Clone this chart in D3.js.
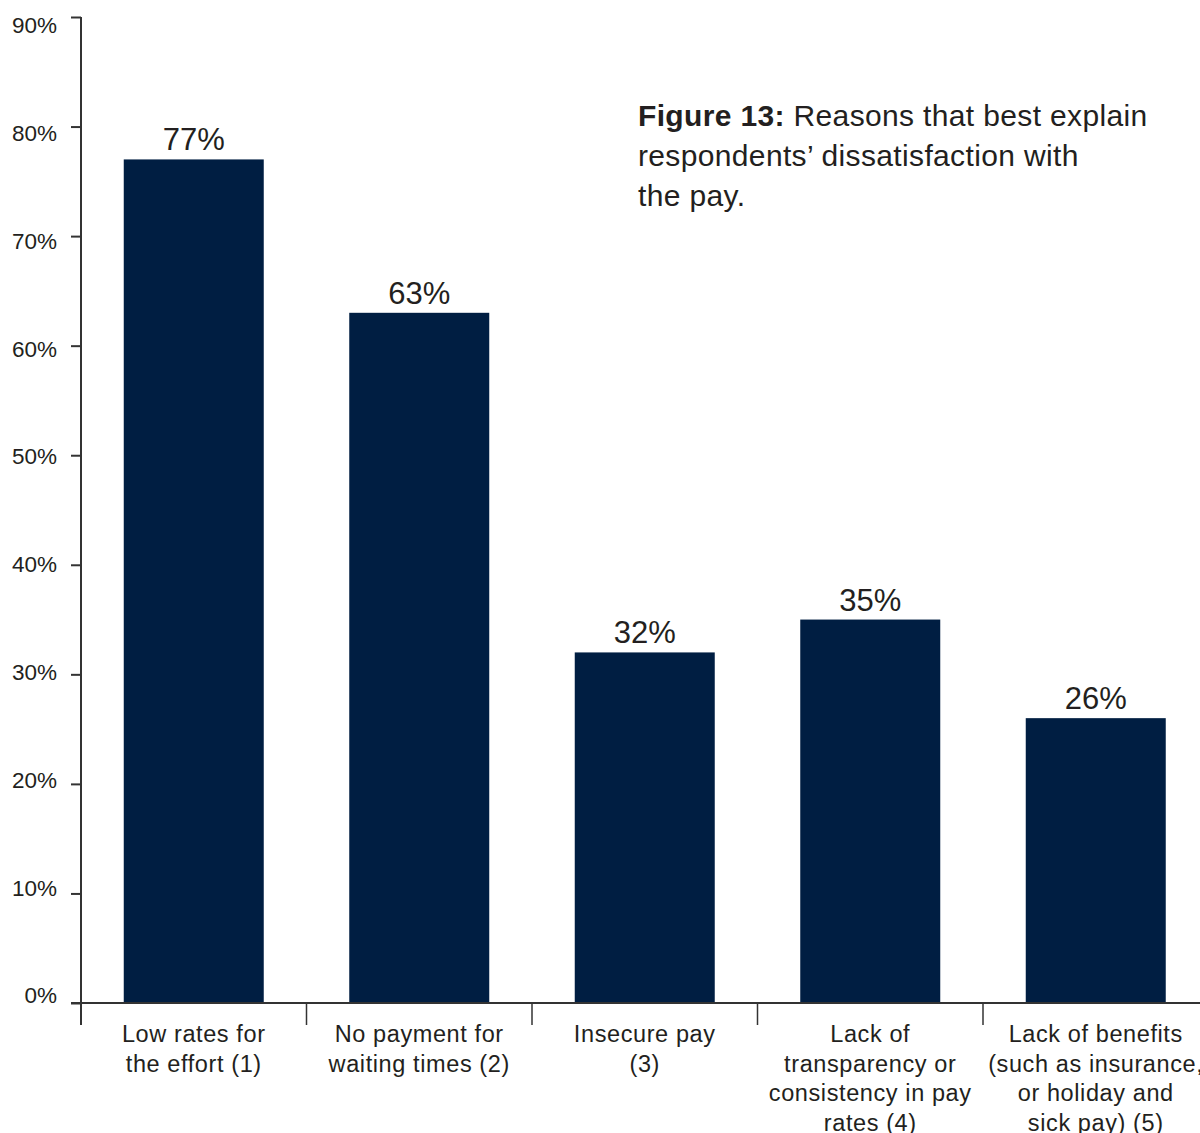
<!DOCTYPE html>
<html>
<head>
<meta charset="utf-8">
<script src="https://cdn.jsdelivr.net/npm/d3@7"></script>
<style>
  html, body { margin: 0; padding: 0; background: #fff; }
  svg { display: block; font-family: "Liberation Sans", Arial, sans-serif; }
</style>
</head>
<body>
<svg id="chart" width="1200" height="1133"></svg>
<script>
// Survey results: share of respondents citing each reason
const categories = [
  ["Low rates for", "the effort (1)"],
  ["No payment for", "waiting times (2)"],
  ["Insecure pay", "(3)"],
  ["Lack of", "transparency or", "consistency in pay", "rates (4)"],
  ["Lack of benefits", "(such as insurance,", "or holiday and", "sick pay) (5)"]
];
const values = [77, 63, 32, 35, 26];
const yTicks = [0, 10, 20, 30, 40, 50, 60, 70, 80, 90];

const svg = d3.select("#chart");
const fontFamily = "'Liberation Sans', Arial, sans-serif";
const textColor = "#231f20";
const axisColor = "#333";
const barColor = "#001e42";

const ids = categories.map((c, i) => i);
const x = d3.scaleBand().domain(ids).range([81, 1208.5]).padding(0);
const y = d3.scaleLinear().domain([0, 90]).range([1003, 17]);
// tick labels sit on a slightly tighter spacing than the tick marks
const yLabel = d3.scaleLinear().domain([0, 90]).range([995, 25]);
const barWidth = 140;

// bars
svg.append("g").selectAll("rect")
  .data(values)
  .join("rect")
  .attr("x", (d, i) => x(i) + x.bandwidth() / 2 - barWidth / 2)
  .attr("width", barWidth)
  .attr("y", d => y(d))
  .attr("height", d => y(0) - y(d))
  .attr("fill", barColor);

// value labels
svg.append("g").selectAll("text")
  .data(values)
  .join("text")
  .attr("x", (d, i) => x(i) + x.bandwidth() / 2)
  .attr("y", d => y(d) - 9)
  .attr("text-anchor", "middle")
  .attr("font-size", 31)
  .attr("fill", textColor)
  .text(d => d + "%");

// y axis
const yAxis = svg.append("g")
  .attr("transform", "translate(81,0)")
  .call(d3.axisLeft(y).tickValues(yTicks).tickSize(10).tickPadding(14).tickFormat(d => d + "%"));
yAxis.select(".domain").remove();
yAxis.selectAll(".tick line").attr("stroke", axisColor).attr("stroke-width", 2);
yAxis.selectAll(".tick text")
  .attr("font-size", 22.5)
  .attr("font-family", fontFamily)
  .attr("fill", textColor)
  .attr("y", d => yLabel(d) - y(d))
  .attr("dy", "0.35em");

// y axis line, running a little below the baseline
svg.append("line")
  .attr("x1", 81).attr("x2", 81)
  .attr("y1", y(90)).attr("y2", y(0) + 22)
  .attr("stroke", axisColor).attr("stroke-width", 2);

// x axis baseline
svg.append("line")
  .attr("x1", 71).attr("x2", 1200)
  .attr("y1", y(0)).attr("y2", y(0))
  .attr("stroke", axisColor).attr("stroke-width", 2);

// category dividers
svg.append("g").selectAll("line")
  .data(ids.slice(1))
  .join("line")
  .attr("x1", d => x(d)).attr("x2", d => x(d))
  .attr("y1", y(0)).attr("y2", y(0) + 22)
  .attr("stroke", axisColor).attr("stroke-width", 1.5);

// category labels
const catG = svg.append("g").selectAll("text")
  .data(categories)
  .join("text")
  .attr("text-anchor", "middle")
  .attr("font-size", 23.5)
  .attr("letter-spacing", 0.6)
  .attr("fill", textColor);
catG.selectAll("tspan")
  .data((d, i) => d.map(line => ({ line, i })))
  .join("tspan")
  .attr("x", d => x(d.i) + x.bandwidth() / 2)
  .attr("y", (d, j) => 1042 + j * 29.5)
  .text(d => d.line);

// title
const title = svg.append("text")
  .attr("x", 638)
  .attr("font-size", 30)
  .attr("letter-spacing", 0.35)
  .attr("fill", textColor);
const t1 = title.append("tspan").attr("x", 638).attr("y", 126);
t1.append("tspan").attr("font-weight", "bold").text("Figure 13:");
t1.append("tspan").text(" Reasons that best explain");
title.append("tspan").attr("x", 638).attr("y", 166).text("respondents’ dissatisfaction with");
title.append("tspan").attr("x", 638).attr("y", 206).text("the pay.");
</script>
</body>
</html>
